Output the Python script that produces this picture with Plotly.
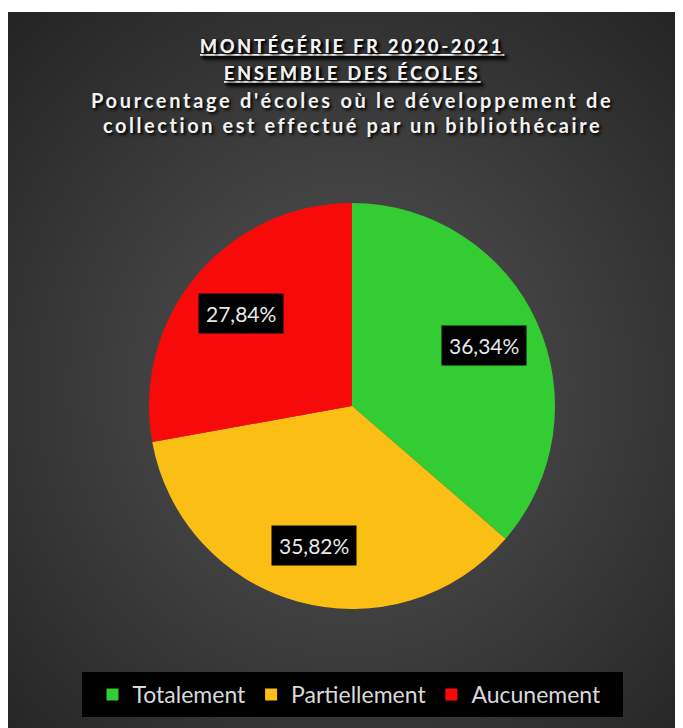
import math, base64
import plotly.graph_objects as go

categories = ["Totalement", "Partiellement", "Aucunement"]
values = [36.34, 35.82, 27.84]
value_labels = ["36,34%", "35,82%", "27,84%"]
colors = ["#33cc33", "#fbbe14", "#f80a0a"]
title_lines = ["MONTÉGÉRIE FR 2020-2021", "ENSEMBLE DES ÉCOLES",
               "Pourcentage d'écoles où le développement de",
               "collection est effectué par un bibliothécaire"]

W, H = 683, 728
cx, cy, R = 344, 398, 203  # pie centre / radius in px (figure coords)

fig = go.Figure()
fig.add_trace(go.Pie(
    labels=categories, values=values, sort=False, direction="clockwise", rotation=0,
    marker=dict(colors=colors, line=dict(width=0)), textinfo="none", hoverinfo="label+percent",
    domain=dict(x=[(cx - R) / W, (cx + R) / W], y=[(H - cy - R) / H, (H - cy + R) / H]),
))

# background radial gradient
svg = ('<svg xmlns="http://www.w3.org/2000/svg" width="683" height="724">'
       '<defs><radialGradient id="g" cx="50%" cy="52%" r="70%">'
       '<stop offset="0%" stop-color="#555555"/><stop offset="100%" stop-color="#252525"/>'
       '</radialGradient></defs><rect width="683" height="724" fill="url(#g)"/></svg>')
src = "data:image/svg+xml;base64," + base64.b64encode(svg.encode()).decode()
fig.add_layout_image(dict(source=src, xref="paper", yref="paper", x=0, y=1 - 4 / H,
                          sizex=1, sizey=1 - 4 / H, xanchor="left", yanchor="top",
                          sizing="stretch", layer="below"))

# legend backing box
fig.add_shape(type="rect", xref="paper", yref="paper", x0=74 / W, x1=615 / W,
              y0=1 - 709 / H, y1=1 - 664 / H, fillcolor="black", line=dict(width=0),
              layer="below")

# value labels
total = sum(values)
cum = 0
for v, lab in zip(values, value_labels):
    mid = (cum + v / 2) / total * 2 * math.pi
    cum += v
    px = cx + 0.713 * R * math.sin(mid)
    py = cy - 0.713 * R * math.cos(mid)
    fig.add_annotation(x=px / W, y=1 - py / H, xref="paper", yref="paper", text=lab,
                       showarrow=False, xanchor="center", yanchor="middle",
                       bgcolor="black", borderpad=7,
                       font=dict(family="Lato", size=21, color="#e8e8e8"))

# title
ys = [38, 65, 92, 117]
sizes = [18, 18, 20, 20]
spacing = [2.9, 2.9, 2.7, 2.55]
for i, (t, yy, sz, sp) in enumerate(zip(title_lines, ys, sizes, spacing)):
    inner = f'<span style="letter-spacing:{sp}px">{t}</span>'
    txt = f"<u>{inner}</u>" if i < 2 else inner
    fig.add_annotation(x=344 / W, y=1 - yy / H, xref="paper", yref="paper", text=txt,
                       showarrow=False, xanchor="center", yanchor="middle",
                       font=dict(family="Lato", size=sz, color="#f2f2f2", weight="bold",
                                 shadow="2px 2px 3px #000"))

fig.update_layout(
    width=W, height=H, margin=dict(l=0, r=0, t=0, b=0),
    paper_bgcolor="white", plot_bgcolor="white", showlegend=True,
    legend=dict(orientation="h", x=341.5 / W, xanchor="center", y=1 - 686.5 / H, yanchor="middle",
                bgcolor="black", borderwidth=0,
                font=dict(family="Lato", size=23, color="#d9d9d9"),
                itemwidth=30, itemclick=False),
)
fig.write_html("out.html")
